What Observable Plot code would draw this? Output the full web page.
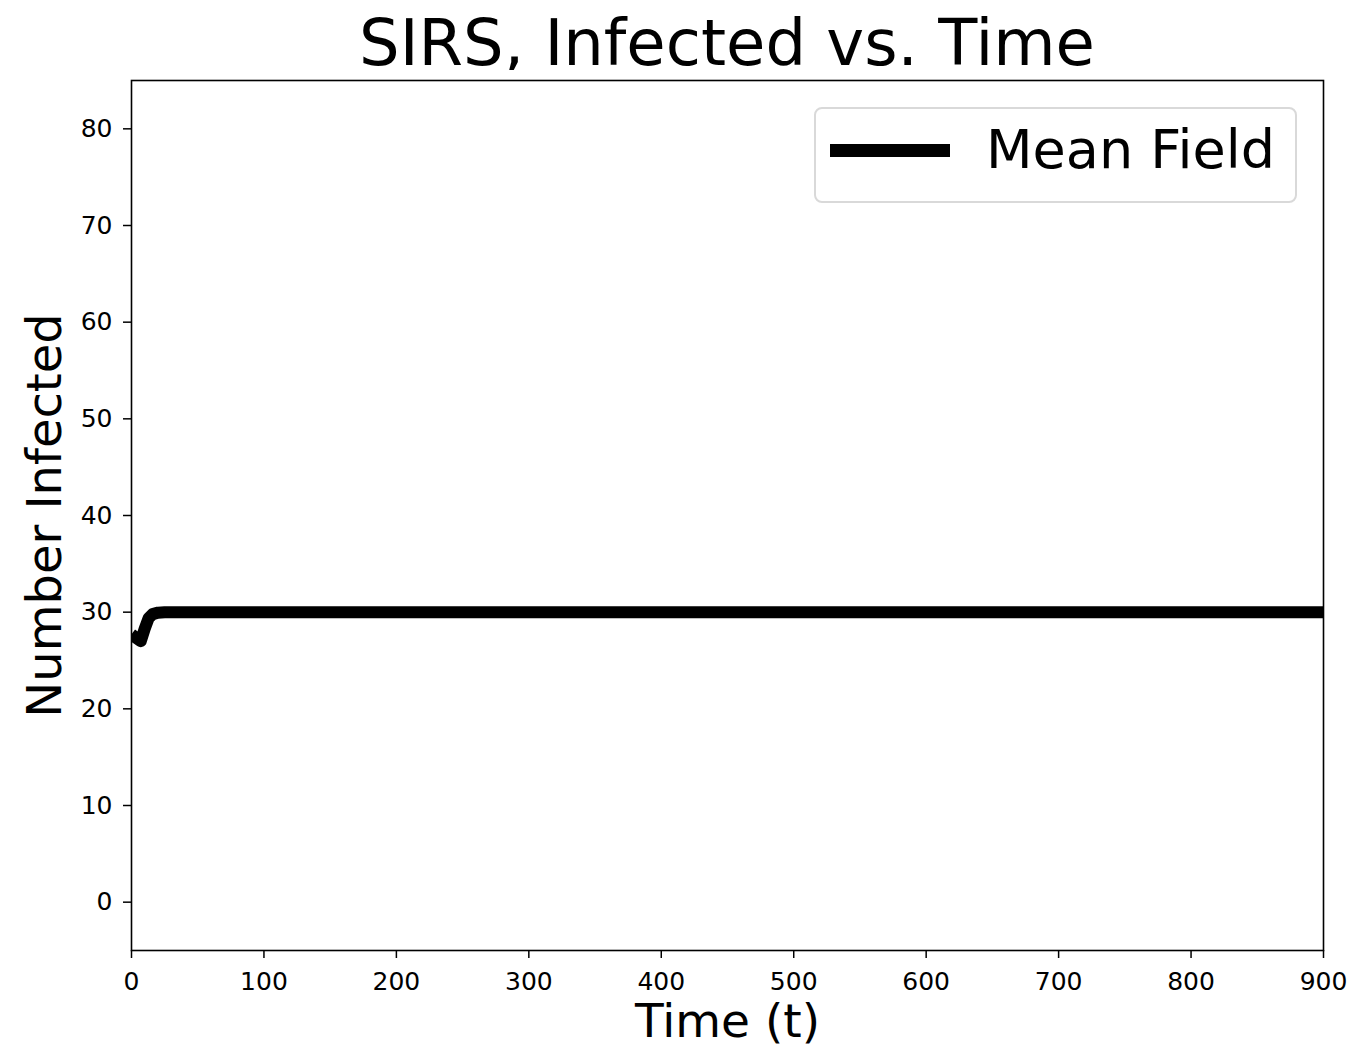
<!DOCTYPE html>
<html>
<head>
<meta charset="utf-8">
<script src="https://cdn.jsdelivr.net/npm/d3@7"></script>
<script src="https://cdn.jsdelivr.net/npm/@observablehq/plot@0.6"></script>
<style>
  html, body { margin: 0; padding: 0; background: #fff; }
  #wrap { position: relative; width: 1354px; height: 1047px; font-family: "DejaVu Sans", sans-serif; color: #000; overflow: hidden; }
  #title { position: absolute; left: 131px; width: 1192px; top: 11px; text-align: center; font-size: 64px; line-height: 64px; white-space: nowrap; }
  #chart { position: absolute; left: 0; top: 70px; }
  #legend { position: absolute; left: 814px; top: 107px; width: 479px; height: 92px; border: 2px solid #d9d9d9; border-radius: 8px; background: rgba(255,255,255,0.8); }
  #swatch { position: absolute; left: 14px; top: 35px; width: 120px; height: 13px; background: #000; }
  #legtext { position: absolute; left: 170px; top: 14px; font-size: 54px; line-height: 54px; white-space: nowrap; }
</style>
</head>
<body>
<div id="wrap">
  <div id="title"></div>
  <div id="chart"></div>
  <div id="legend"><div id="swatch"></div><div id="legtext"></div></div>
</div>
<script>
const titleText = "SIRS, Infected vs. Time";
const xLabel = "Time (t)";
const yLabel = "Number Infected";
const seriesName = "Mean Field";

const timeValues = [0, 3, 7, 10, 13, 16, 20, 25, 30, 40, 60, 100, 200, 300, 400, 500, 600, 700, 800, 900];
const infectedValues = [27.7, 27.4, 27.0, 28.3, 29.4, 29.8, 29.95, 30.0, 30.0, 30.0, 30.0, 30.0, 30.0, 30.0, 30.0, 30.0, 30.0, 30.0, 30.0, 30.0];

const xTicks = [0, 100, 200, 300, 400, 500, 600, 700, 800, 900];
const yTicks = [0, 10, 20, 30, 40, 50, 60, 70, 80];

const data = timeValues.map((t, i) => ({t, v: infectedValues[i]}));

document.getElementById("title").textContent = titleText;
document.getElementById("legtext").textContent = seriesName;

const plot = Plot.plot({
  width: 1354,
  height: 977,
  marginTop: 10,
  marginBottom: 97,
  marginLeft: 131,
  marginRight: 31,
  style: {fontFamily: "DejaVu Sans, sans-serif", color: "#000", background: "#fff"},
  x: {domain: [0, 900]},
  y: {domain: [-5, 85]},
  marks: [
    Plot.line(data, {x: "t", y: "v", stroke: "#000", strokeWidth: 12, strokeLinejoin: "round", strokeLinecap: "butt", clip: true}),
    Plot.frame({stroke: "#000", strokeWidth: 1.6}),
    Plot.axisX({ticks: xTicks, tickSize: 8, tickPadding: 14, fontSize: 25, label: null, strokeWidth: 1.5, tickFormat: d => String(d)}),
    Plot.axisY({ticks: yTicks, tickSize: 8, tickPadding: 11, fontSize: 25, label: null, strokeWidth: 1.5, tickFormat: d => String(d)}),
    Plot.text([xLabel], {frameAnchor: "bottom", text: d => d, textAnchor: "middle", lineAnchor: "bottom", dy: 86, fontSize: 47, fill: "#000"}),
    Plot.text([yLabel], {frameAnchor: "left", text: d => d, textAnchor: "middle", rotate: -90, lineAnchor: "bottom", dx: -71, fontSize: 48, fill: "#000"})
  ]
});
document.getElementById("chart").appendChild(plot);
</script>
</body>
</html>
